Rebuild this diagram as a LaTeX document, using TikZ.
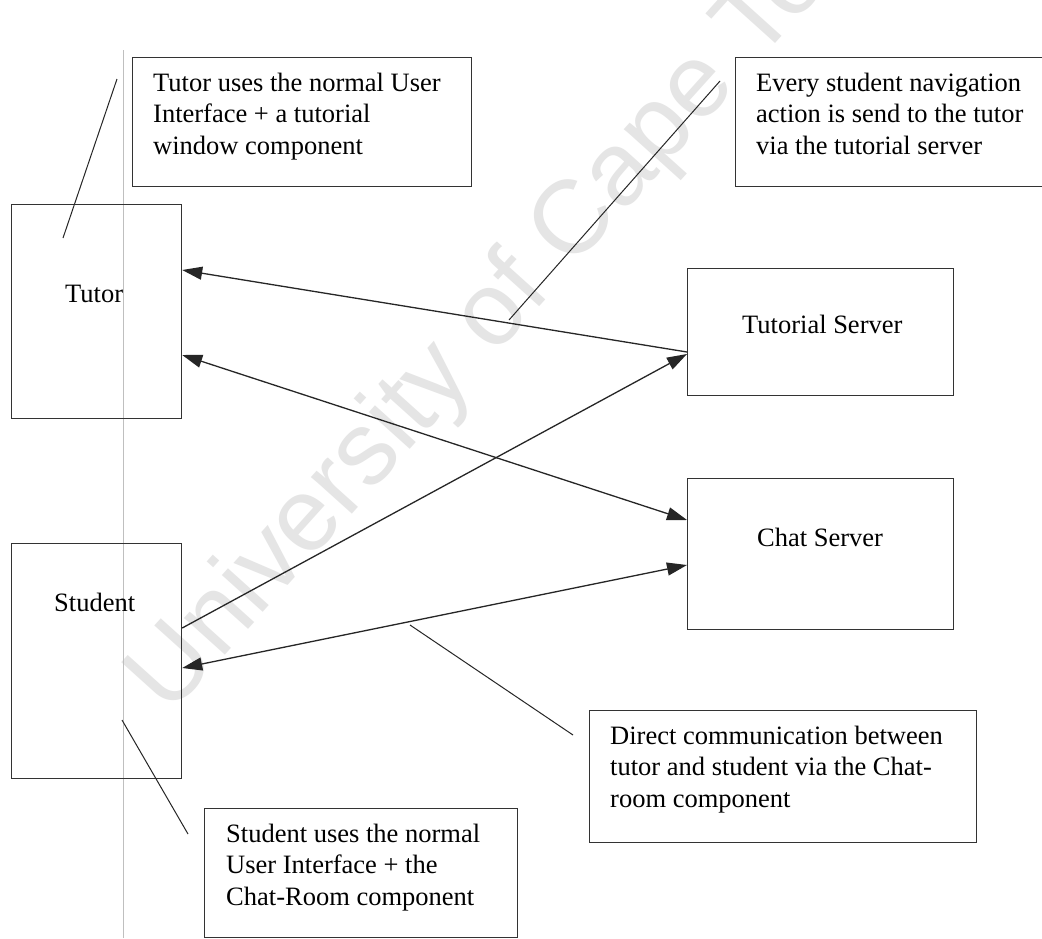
\documentclass[tikz,border=0pt]{standalone}
\usepackage{fontspec}
\setmainfont{Liberation Serif}
\newfontfamily\wmfont{Liberation Sans}
\usetikzlibrary{arrows.meta,calc}
\begin{document}
\begin{tikzpicture}[x=1pt,y=-1pt,
  every node/.style={font=\fontsize{26.5}{31.2}\selectfont},
  block/.style={draw=black!80, line width=1.2pt, rectangle, inner sep=0pt, anchor=north west},
  txt/.style={inner sep=0pt, align=left, anchor=base west},
  link/.style={draw=black!85, line width=1.3pt},
  onehead/.style={-{Triangle[length=20pt,width=13pt]}},
  twoway/.style={{Triangle[length=20pt,width=13pt]}-{Triangle[length=20pt,width=13pt]}},
]
\useasboundingbox (0,0) rectangle (1042,938);
\fill[white] (0,0) rectangle (1042,938);
\clip (0,0) rectangle (1042,938);

% watermark and page margin line
\node[rotate=48, text=black!10, font=\wmfont\fontsize{104}{104}\selectfont] (wm) at (525,282) {University of Cape Town};
\draw[black!25, line width=0.8pt] (123,50) -- (123,938);

% main blocks
\node[block, minimum width=170pt, minimum height=214pt] (tutor) at (11,204) {};
\node[txt] (tutorlbl) at (65,302) {Tutor};
\node[block, minimum width=170pt, minimum height=235pt] (student) at (11,543) {};
\node[txt] (studentlbl) at (54,611) {Student};
\node[block, minimum width=266pt, minimum height=127pt] (tserver) at (687,268) {};
\node[txt] (tserverlbl) at (742,333) {Tutorial Server};
\node[block, minimum width=266pt, minimum height=151pt] (cserver) at (687,478) {};
\node[txt] (cserverlbl) at (757,546) {Chat Server};

% notes (multi-line text is placed by the baseline of its last line)
\node[block, minimum width=339pt, minimum height=129pt] (tnote) at (132,57) {};
\node[txt] (tnotetxt) at (153,154) {Tutor uses the normal User\\Interface + a tutorial\\window component};
\node[block, minimum width=320pt, minimum height=129pt] (enote) at (735,57) {};
\node[txt] (enotetxt) at (756,154) {Every student navigation\\action is send to the tutor\\via the tutorial server};
\node[block, minimum width=387pt, minimum height=132pt] (dnote) at (589,710) {};
\node[txt] (dnotetxt) at (610,807) {Direct communication between\\tutor and student via the Chat-\\room component};
\node[block, minimum width=313pt, minimum height=129pt] (snote) at (204,808) {};
\node[txt] (snotetxt) at (226,905) {Student uses the normal\\User Interface + the\\Chat-Room component};

% connectors between blocks
\draw[link, onehead] ($(tserver.north west)+(0,84)$) -- ($(tutor.north east)+(0,66)$);
\draw[link, onehead] ($(student.north east)+(0,85)$) -- ($(tserver.north west)+(0,86)$);
\draw[link, twoway] ($(tutor.north east)+(0,151)$) -- ($(cserver.north west)+(0,42)$);
\draw[link, twoway] ($(cserver.north west)+(0,87)$) -- ($(student.north east)+(0,125)$);

% note pointers
\coordinate (tp1) at (117,79);
\coordinate (tp2) at (63,238);
\coordinate (ep1) at (720,81);
\coordinate (ep2) at (509,320);
\coordinate (sp1) at (122,720);
\coordinate (sp2) at (188,834);
\coordinate (dp1) at (410,625);
\coordinate (dp2) at (573,735);
\draw[link, line width=1pt] (tp1) -- (tp2);
\draw[link, line width=1pt] (ep1) -- (ep2);
\draw[link, line width=1pt] (sp1) -- (sp2);
\draw[link, line width=1pt] (dp1) -- (dp2);
\end{tikzpicture}
\end{document}
